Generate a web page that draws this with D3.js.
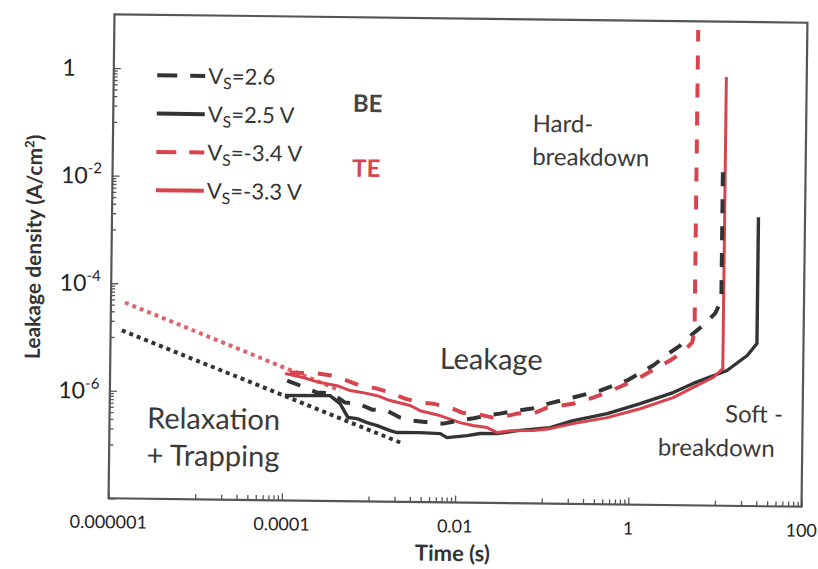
<!DOCTYPE html>
<html><head><meta charset="utf-8">
<script src="https://cdn.jsdelivr.net/npm/d3@7"></script>
<style>html,body{margin:0;padding:0;background:#fff;} svg{display:block;font-family:Lato,"Open Sans",sans-serif;}</style>
</head><body><svg id="c" width="818" height="569"></svg>
<script>
// ---- axis ticks / labels ----
const xTicks = [1e-6, 1e-4, 1e-2, 1, 100];
const xTickLabels = ["0.000001", "0.0001", "0.01", "1", "100"];
const yTicks = [1e-8, 1e-6, 1e-4, 1e-2, 1];
const yLabelTicks = [1e-6, 1e-4, 1e-2, 1];
const yLabelBase = ["10", "10", "10", "1"];
const yLabelExp = ["-6", "-4", "-2", ""];

// ---- series: time (s) and leakage density (A/cm^2) ----
const tBlackDot = [1.35e-6, 2.46e-3];
const jBlackDot = [1.33e-5, 1.21e-7];
const tRedDot = [1.45e-6, 4.54e-4];
const jRedDot = [4.4e-5, 1.14e-6];

const tBlackSolid = [1.05e-4, 3.48e-4, 4.56e-4, 5.66e-4, 7.2e-4, 9.4e-4, 1.23e-3, 1.74e-3, 2.09e-3, 3.86e-3, 6.6e-3, 7.9e-3, 1.35e-2, 1.9e-2, 2.99e-2, 5.1e-2, 0.122, 0.225, 0.555, 1.33, 3.18, 5.4, 13.2, 22.5, 29, 29];
const jBlackSolid = [8.9e-7, 9.1e-7, 6.5e-7, 3.59e-7, 3.45e-7, 2.92e-7, 2.58e-7, 2.1e-7, 1.94e-7, 1.95e-7, 1.89e-7, 1.6e-7, 1.76e-7, 1.94e-7, 1.95e-7, 2.24e-7, 2.59e-7, 3.54e-7, 4.86e-7, 7.6e-7, 1.24e-6, 1.85e-6, 3.28e-6, 6.3e-6, 1.06e-5, 2.36e-3];

const tRedSolid = [1.05e-4, 1.69e-4, 2.66e-4, 4.18e-4, 5.93e-4, 8.4e-4, 1.22e-3, 1.72e-3, 2.94e-3, 3.83e-3, 6.5e-3, 1.11e-2, 1.57e-2, 2.29e-2, 2.99e-2, 4.23e-2, 7.8e-2, 0.122, 0.225, 0.555, 1.33, 3.18, 5.41, 9.16, 11.8, 11.8];
const jRedSolid = [2.29e-6, 1.95e-6, 1.58e-6, 1.4e-6, 1.14e-6, 1.05e-6, 9.3e-7, 7.6e-7, 6.2e-7, 5.0e-7, 4.1e-7, 3.06e-7, 2.72e-7, 2.51e-7, 2.04e-7, 2.23e-7, 2.26e-7, 2.48e-7, 3.11e-7, 4.1e-7, 6.1e-7, 1.0e-6, 1.56e-6, 2.41e-6, 3.56e-6, 0.94];

const tBlackDash = [1.11e-4, 1.56e-4, 2.46e-4, 3.67e-4, 5.2e-4, 7.35e-4, 1.07e-3, 1.59e-3, 2.25e-3, 3.2e-3, 5.0e-3, 7.1e-3, 1.06e-2, 1.53e-2, 2.28e-2, 3.22e-2, 5.05e-2, 7.5e-2, 0.106, 0.223, 0.456, 0.933, 1.85, 2.9, 3.77, 5.31, 6.9, 9.46, 11.1, 11.1];
const jBlackDash = [1.69e-6, 1.38e-6, 1.03e-6, 9.96e-7, 6.8e-7, 6.56e-7, 5.1e-7, 4.93e-7, 3.68e-7, 3.25e-7, 3.02e-7, 2.91e-7, 3.33e-7, 3.66e-7, 4.21e-7, 4.6e-7, 5.28e-7, 5.8e-7, 6.95e-7, 9.5e-7, 1.3e-6, 2.03e-6, 3.91e-6, 6.9e-6, 9.3e-6, 1.57e-5, 2.23e-5, 3.75e-5, 6.6e-5, 2.66e-2];

const tRedDash = [1.19e-4, 2.45e-4, 3.65e-4, 5.46e-4, 7.7e-4, 1.21e-3, 1.71e-3, 2.56e-3, 3.82e-3, 5.4e-3, 8.5e-3, 1.17e-2, 1.66e-2, 2.67e-2, 3.22e-2, 5.06e-2, 7.7e-2, 0.112, 0.223, 0.351, 0.55, 0.933, 1.31, 2.06, 2.9, 3.98, 5.19, 5.5, 5.5];
const jRedDash = [2.39e-6, 2.33e-6, 2.15e-6, 1.75e-6, 1.42e-6, 1.26e-6, 1.07e-6, 8.3e-7, 7.1e-7, 6.8e-7, 5.8e-7, 4.7e-7, 4.54e-7, 3.86e-7, 3.87e-7, 4.64e-7, 4.68e-7, 6.1e-7, 7.3e-7, 9.2e-7, 1.2e-6, 1.78e-6, 2.32e-6, 3.59e-6, 4.89e-6, 6.9e-6, 1.07e-5, 1.79e-5, 6.9];

// ---- legend ----
const legendSub = "S";
const legendValues = ["=2.6", "=2.5 V", "=-3.4 V", "=-3.3 V"];
const legendColors = ["#333333", "#333333", "#d8434d", "#d8434d"];
const legendDashed = [true, false, true, false];

const BLACK = "#333333", RED = "#d8434d", RED_DOT = "#e0646e", AXIS = "#555555", TXT = "#3a3a3a";

const svg = d3.select("#c");
const root = svg.append("g").attr("transform", "rotate(0.7,458,260)");

const x = d3.scaleLog().domain([1e-6, 100]).range([111.5, 804.5]);
const y = d3.scaleLog().domain([1e-8, 10]).range([502.5, 18.5]);
const [x0, x1] = x.range();
const [yb, yt] = y.range();

// minor ticks (Excel log base 100 style)
const xMinor = xTicks.slice(0, -1).flatMap(m => d3.range(1, 10).map(k => m * 10 * k));
const yMinor = yTicks.flatMap(m => d3.range(1, 10).map(k => m * 10 * k)).filter(v => v < 10);

function styleAxis(g) {
  g.select(".domain").remove();
  g.selectAll(".tick line").attr("stroke", AXIS).attr("stroke-width", 1.3);
}
root.append("g").attr("transform", `translate(0,${yb})`)
  .call(d3.axisBottom(x).tickValues(xMinor).tickSize(-5).tickFormat(""))
  .call(styleAxis);
root.append("g").attr("transform", `translate(0,${yb})`)
  .call(d3.axisBottom(x).tickValues(xTicks).tickSize(-7).tickFormat(""))
  .call(styleAxis);
root.append("g").attr("transform", `translate(${x0},0)`)
  .call(d3.axisLeft(y).tickValues(yMinor).tickSize(-4).tickFormat(""))
  .call(styleAxis);
root.append("g").attr("transform", `translate(${x0},0)`)
  .call(d3.axisLeft(y).tickValues(yTicks).tickSize(-7).tickFormat(""))
  .call(styleAxis);

// frame
root.append("rect").attr("x", x0).attr("y", yt).attr("width", x1 - x0).attr("height", yb - yt)
  .attr("fill", "none").attr("stroke", AXIS).attr("stroke-width", 2.2);

// tick labels
root.selectAll(".xl").data(xTicks).join("text").attr("class", "xl")
  .attr("x", d => x(d)).attr("y", yb + 30).attr("text-anchor", "middle")
  .attr("font-size", 18).attr("fill", "#222").text((d, i) => xTickLabels[i]);

const yl = root.selectAll(".yl").data(yLabelTicks).join("text").attr("class", "yl")
  .attr("x", 60).attr("y", d => y(d) + 8).attr("font-size", 23).attr("fill", "#222");
yl.append("tspan").text((d, i) => yLabelBase[i]);
yl.append("tspan").attr("font-size", 15).attr("dy", -10).text((d, i) => yLabelExp[i]);

// axis titles
root.append("text").attr("x", (x0 + x1) / 2 - 2).attr("y", 561).attr("text-anchor", "middle")
  .attr("font-size", 22).attr("font-weight", "bold").attr("fill", "#333").text("Time (s)");
const yt1 = root.append("text").attr("transform", "translate(41,252) rotate(-90)")
  .attr("text-anchor", "middle").attr("font-size", 21).attr("font-weight", "bold").attr("fill", "#333");
yt1.append("tspan").text("Leakage density (A/cm");
yt1.append("tspan").attr("font-size", 13).attr("dy", -8).text("2");
yt1.append("tspan").attr("dy", 8).text(")");

// series
const line = d3.line().x(d => x(d[0])).y(d => y(d[1]));
const plot = root.append("g");
function draw(t, j, color, width, dash) {
  plot.append("path").datum(d3.zip(t, j)).attr("d", line)
    .attr("fill", "none").attr("stroke", color).attr("stroke-width", width)
    .attr("stroke-dasharray", dash || null).attr("stroke-linejoin", "round");
}
draw(tBlackDot, jBlackDot, BLACK, 4, "4,4");
draw(tRedDot, jRedDot, RED_DOT, 4, "4,4");
draw(tBlackSolid, jBlackSolid, BLACK, 3.4);
draw(tRedSolid, jRedSolid, RED, 3);
draw(tBlackDash, jBlackDash, BLACK, 4, "14,13");
draw(tRedDash, jRedDash, RED, 4, "14,14");

// legend
const lg = root.append("g");
legendValues.forEach((v, i) => {
  const ly = 79 + i * 38.3;
  lg.append("line").attr("x1", 155).attr("x2", 203).attr("y1", ly).attr("y2", ly)
    .attr("stroke", legendColors[i]).attr("stroke-width", 4)
    .attr("stroke-dasharray", legendDashed[i] ? "20,13" : null);
  const tx = lg.append("text").attr("x", 206).attr("y", ly + 8).attr("font-size", 22).attr("fill", "#333");
  tx.append("tspan").text("V");
  tx.append("tspan").attr("font-size", 16).attr("dy", 5).text(legendSub);
  tx.append("tspan").attr("dy", -5).text(v);
});

// annotations
function note(txt, xx, yy, size, color, weight) {
  root.append("text").attr("x", xx).attr("y", yy).attr("font-size", size)
    .attr("fill", color).attr("font-weight", weight || "normal").text(txt);
}
note("BE", 351, 113, 24, "#444", "bold");
note("TE", 351, 178, 24, RED, "bold");
note("Hard-", 531, 131, 24, TXT);
note("breakdown", 531, 164, 24, TXT);
note("Leakage", 441, 369, 29, TXT);
note("Relaxation", 149, 432, 29, TXT);
note("+ Trapping", 149, 469, 29, TXT);
note("Soft -", 727, 419, 24, TXT);
note("breakdown", 660, 453, 24, TXT);
</script></body></html>
